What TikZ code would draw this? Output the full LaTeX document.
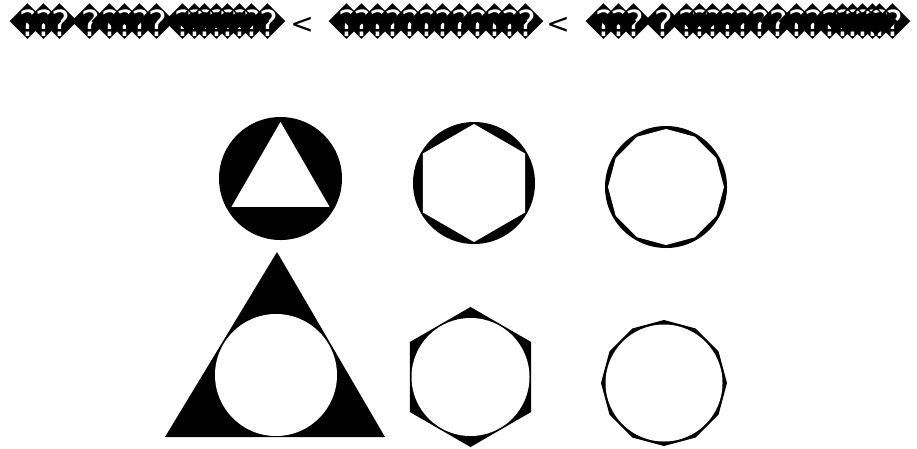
\documentclass[tikz,border=0pt]{standalone}
\usepackage{fontspec}
\newfontfamily\dv{DejaVu Sans}
\begin{document}
\begin{tikzpicture}[x=1pt,y=-1pt,
  rc/.style={inner sep=0pt,font=\dv\fontsize{36}{36}\selectfont},
  lt/.style={inner sep=0pt,font=\dv\fontsize{28}{28}\selectfont}]
\useasboundingbox (0,0) rectangle (917,448);
\fill[white] (0,0) rectangle (917,448);
% garbled heading
\foreach \x [count=\i] in {28,44,60,90,110,125,140,157,183,195,205,217,228,240,252,268}
  \node[rc] (a\i) at (\x,22) {\char"FFFD};
\node[lt] (lt1) at (302,25) {<};
\foreach \x [count=\i] in {347,362,378,393,410,427,443,460,478,495,510,526}
  \node[rc] (b\i) at (\x,22) {\char"FFFD};
\node[lt] (lt2) at (558,25) {<};
\foreach \x [count=\i] in {604,619,634,663,687,700,713,728,743,760,778,797,813,830,843,853,863,873,880,893}
  \node[rc] (c\i) at (\x,22) {\char"FFFD};
% top-left: circle with inscribed triangle
\fill[black] (280.5,178.5) circle (61.5);
\fill[white,shift={(280.5,178.5)}] (-90:56.6) -- (30:56.6) -- (150:56.6) -- cycle;
% bottom-left: triangle with inscribed circle
\fill[black] (165,437) -- (385,437) -- (277,252) -- cycle;
\fill[white] (276,375) circle (61);
% top-middle: circle with inscribed hexagon
\fill[black] (474,183) circle (61);
\fill[white,shift={(474,183)}] (-90:59) -- (-30:59) -- (30:59) -- (90:59) -- (150:59) -- (210:59) -- cycle;
% bottom-middle: hexagon with inscribed circle
\fill[black,shift={(470.5,377)}] (-90:70) -- (-30:70) -- (30:70) -- (90:70) -- (150:70) -- (210:70) -- cycle;
\fill[white] (470.5,377) circle (59);
% top-right: circle with inscribed 12-gon
\fill[black] (666,187) circle (61);
\fill[white,shift={(666,187)}] (0:58) \foreach \a in {30,60,...,330} { -- (\a:58) } -- cycle;
% bottom-right: 12-gon with inscribed circle
\fill[black,shift={(664,383)}] (0:63) \foreach \a in {30,60,...,330} { -- (\a:63) } -- cycle;
\fill[white] (664,383) circle (58.5);
\end{tikzpicture}
\end{document}
